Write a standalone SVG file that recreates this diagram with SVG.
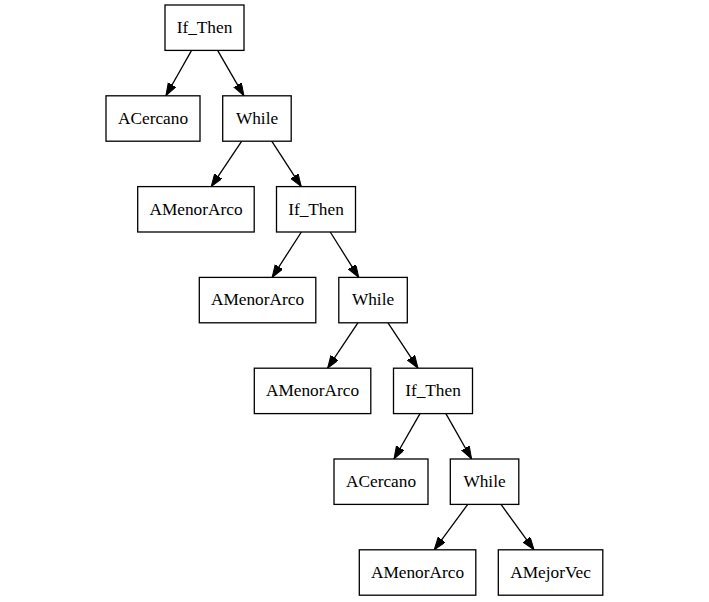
<svg xmlns="http://www.w3.org/2000/svg" width="709" height="602" viewBox="0 0 709 602">
<style>
  .node rect { fill: #ffffff; stroke: #000000; stroke-width: 1.3; }
  .node text { font-family: "Liberation Serif", "Times New Roman", serif; font-size: 17.3px; fill: #000000; text-anchor: middle; }
  .edges line { stroke: #000000; stroke-width: 1.3; fill: none; marker-end: url(#arrow); }
</style>
<defs>
  <marker id="arrow" markerUnits="userSpaceOnUse" markerWidth="14" markerHeight="10" refX="12.6" refY="4.4" orient="auto">
    <path d="M0,0 L12.6,4.4 L0,8.8 z" fill="#000000" stroke="#000000" stroke-width="1"/>
  </marker>
</defs>
<rect width="709" height="602" fill="#ffffff"/>
<g class="edges">
  <line x1="191.6" y1="50.4" x2="165.9" y2="95.8"/>
  <line x1="217.6" y1="50.4" x2="243.9" y2="95.8"/>
  <line x1="241.75" y1="141.2" x2="211.25" y2="186.6"/>
  <line x1="271.75" y1="141.2" x2="301.25" y2="186.6"/>
  <line x1="301.4" y1="232" x2="272.1" y2="277.4"/>
  <line x1="330.25" y1="232" x2="358.75" y2="277.4"/>
  <line x1="357.9" y1="322.8" x2="327.6" y2="368.2"/>
  <line x1="388" y1="322.8" x2="418" y2="368.2"/>
  <line x1="420" y1="413.6" x2="394" y2="459"/>
  <line x1="445.9" y1="413.6" x2="471.6" y2="459"/>
  <line x1="467.75" y1="504.4" x2="434.25" y2="549.8"/>
  <line x1="501" y1="504.4" x2="534" y2="549.8"/>
</g>
<g id="n0" class="node"><rect x="165" y="5" width="79" height="45.4"/><text x="204.5" y="33">If_Then</text></g>
<g id="n1" class="node"><rect x="106" y="95.8" width="94" height="45.4"/><text x="153" y="123.8">ACercano</text></g>
<g id="n2" class="node"><rect x="222.7" y="95.8" width="68.5" height="45.4"/><text x="257" y="123.8">While</text></g>
<g id="n3" class="node"><rect x="137.7" y="186.6" width="116.5" height="45.4"/><text x="196" y="214.6">AMenorArco</text></g>
<g id="n4" class="node"><rect x="276.5" y="186.6" width="79" height="45.4"/><text x="316" y="214.6">If_Then</text></g>
<g id="n5" class="node"><rect x="199.3" y="277.4" width="116.5" height="45.4"/><text x="257.5" y="305.4">AMenorArco</text></g>
<g id="n6" class="node"><rect x="338.8" y="277.4" width="68.5" height="45.4"/><text x="373" y="305.4">While</text></g>
<g id="n7" class="node"><rect x="254.3" y="368.2" width="116.5" height="45.4"/><text x="312.5" y="396.2">AMenorArco</text></g>
<g id="n8" class="node"><rect x="393.5" y="368.2" width="79" height="45.4"/><text x="433" y="396.2">If_Then</text></g>
<g id="n9" class="node"><rect x="334" y="459" width="94" height="45.4"/><text x="381" y="487">ACercano</text></g>
<g id="n10" class="node"><rect x="450.3" y="459" width="68.5" height="45.4"/><text x="484.5" y="487">While</text></g>
<g id="n11" class="node"><rect x="359.3" y="549.8" width="116.5" height="45.4"/><text x="417.5" y="577.8">AMenorArco</text></g>
<g id="n12" class="node"><rect x="498.3" y="549.8" width="104.5" height="45.4"/><text x="550.5" y="577.8">AMejorVec</text></g>
</svg>
